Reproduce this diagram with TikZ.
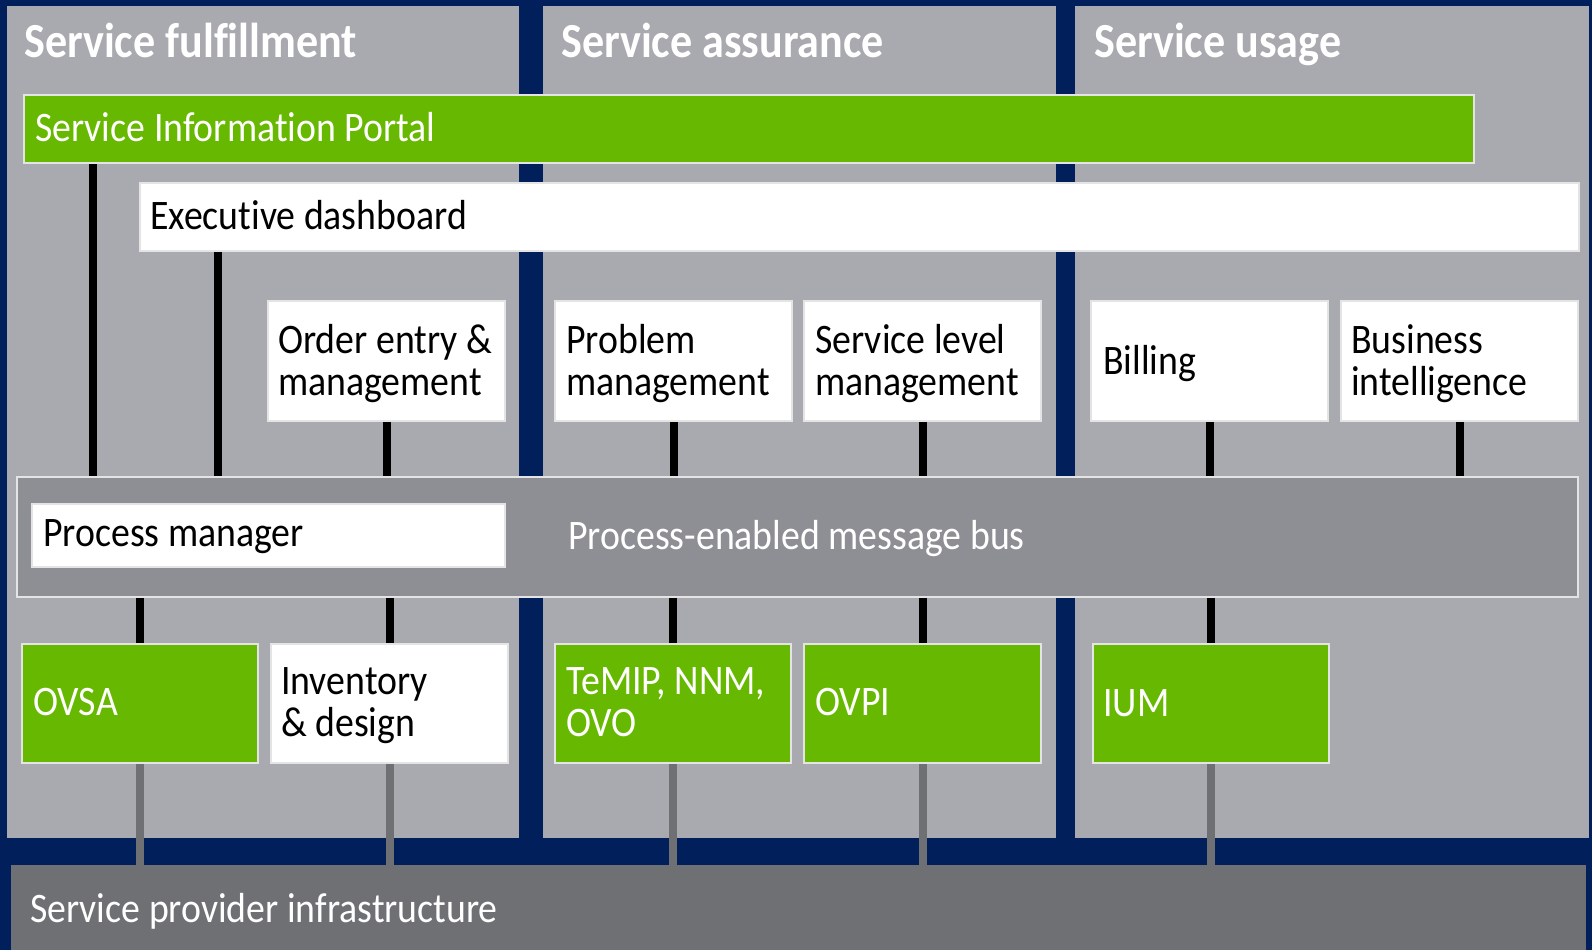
\documentclass[tikz,border=0pt]{standalone}
\usepackage{fontspec}
\setmainfont{Carlito}[FakeStretch=0.9, Ligatures=NoCommon]
\definecolor{navy}{RGB}{0,31,91}
\definecolor{colgray}{RGB}{169,170,175}
\definecolor{busgray}{RGB}{142,143,148}
\definecolor{bargray}{RGB}{111,112,116}
\definecolor{hpgreen}{RGB}{102,185,0}
\definecolor{edgegray}{RGB}{228,228,228}
\tikzset{
  boxbase/.style={rectangle, draw=edgegray, line width=2pt, inner sep=0pt, anchor=north west},
  gbox/.style={boxbase, fill=hpgreen},
  wbox/.style={boxbase, fill=white},
  busbox/.style={boxbase, fill=busgray},
  txt/.style={anchor=base west, inner sep=0pt, align=left, font=\fontsize{42}{42}\selectfont},
  wtxt/.style={txt, text=white},
  btxt/.style={txt, text=black},
  ttl/.style={anchor=base west, inner sep=0pt, text=white, font=\fontsize{49}{49}\selectfont\bfseries},
  blk/.style={line width=8pt, black},
  gry/.style={line width=8pt, bargray},
}
\begin{document}
\begin{tikzpicture}[x=1pt,y=-1pt]
\useasboundingbox (0,0) rectangle (1592,950);
\fill[navy] (0,0) rectangle (1592,950);
% columns
\fill[colgray] (7,6) rectangle (519,838);
\fill[colgray] (543,6) rectangle (1056,838);
\fill[colgray] (1075,6) rectangle (1589,838);
% infrastructure bar
\node[rectangle, fill=bargray, anchor=north west, inner sep=0pt, minimum width=1575pt, minimum height=85pt] (infra) at (11,865) {};
% titles
\node[ttl] (t1) at (24,57) {Service fulfillment};
\node[ttl] (t2) at (561,57) {Service assurance};
\node[ttl] (t3) at (1094,57) {Service usage};
% boxes
\node[gbox, minimum width=1450pt, minimum height=68pt] (portal) at (23,94) {};
\node[wbox, minimum width=1439pt, minimum height=68pt] (exec) at (139,182) {};
\node[wbox, minimum width=237pt, minimum height=120pt] (order) at (267,300) {};
\node[wbox, minimum width=237pt, minimum height=120pt] (problem) at (554,300) {};
\node[wbox, minimum width=237pt, minimum height=120pt] (slm) at (803,300) {};
\node[wbox, minimum width=237pt, minimum height=120pt] (billing) at (1090,300) {};
\node[wbox, minimum width=237pt, minimum height=120pt] (bi) at (1340,300) {};
\node[busbox, minimum width=1561pt, minimum height=120pt] (bus) at (16,476) {};
\node[wbox, minimum width=473pt, minimum height=63pt] (pm) at (31,503) {};
\node[gbox, minimum width=236pt, minimum height=119pt] (ovsa) at (21,643) {};
\node[wbox, minimum width=237pt, minimum height=119pt] (inv) at (270,643) {};
\node[gbox, minimum width=236pt, minimum height=119pt] (temip) at (554,643) {};
\node[gbox, minimum width=237pt, minimum height=119pt] (ovpi) at (803,643) {};
\node[gbox, minimum width=236pt, minimum height=119pt] (ium) at (1092,643) {};
% connector columns
\coordinate (xa) at (93,0);
\coordinate (xb) at (218,0);
% black connectors to the bus
\draw[blk] (portal.south -| xa) -- (bus.north -| xa);
\draw[blk] (exec.south -| xb) -- (bus.north -| xb);
\foreach \n in {order,problem,slm,billing,bi}
  \draw[blk] (\n.south) -- (\n.south |- bus.north);
\foreach \n in {ovsa,inv,temip,ovpi,ium}
  \draw[blk] (\n.north |- bus.south) -- (\n.north);
% grey connectors to the infrastructure
\foreach \n in {ovsa,inv,temip,ovpi,ium}
  \draw[gry] (\n.south) -- (\n.south |- infra.north);
% texts (multi-line nodes: base = last line)
\node[wtxt] (portal-t) at (35,141) {Service Information Portal};
\node[btxt] (exec-t) at (150,229) {Executive dashboard};
\node[btxt] (order-t) at (278,395) {Order entry \&\\management};
\node[btxt] (problem-t) at (566,395) {Problem\\management};
\node[btxt] (slm-t) at (815,395) {Service level\\management};
\node[btxt] (billing-t) at (1103,374) {Billing};
\node[btxt] (bi-t) at (1351,395) {Business\\intelligence};
\node[btxt] (pm-t) at (43,546) {Process manager};
\node[wtxt] (bus-t) at (568,549) {Process-enabled message bus};
\node[wtxt] (ovsa-t) at (33,715) {OVSA};
\node[btxt] (inv-t) at (281,736) {Inventory\\\& design};
\node[wtxt] (temip-t) at (566,736) {TeMIP, NNM,\\OVO};
\node[wtxt] (ovpi-t) at (815,715) {OVPI};
\node[wtxt] (ium-t) at (1103,716) {IUM};
\node[wtxt] (infra-t) at (30,922) {Service provider infrastructure};
\end{tikzpicture}
\end{document}
